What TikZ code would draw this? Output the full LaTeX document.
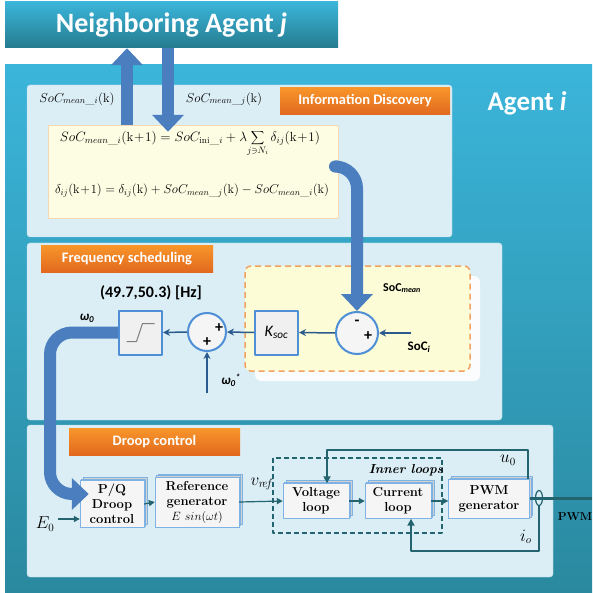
\documentclass[tikz,border=0pt]{standalone}
\usepackage{graphicx}
\usepackage{fontspec}
\newfontfamily\calib{Carlito}
\usetikzlibrary{arrows.meta,shadows,calc,shapes.geometric}
\definecolor{tealtop}{HTML}{3BB5DA}
\definecolor{tealbot}{HTML}{2A899F}
\definecolor{panelfill}{HTML}{DBEEF5}
\definecolor{panelline}{HTML}{B4DAE8}
\definecolor{orangetop}{HTML}{F8962A}
\definecolor{orangebot}{HTML}{E2691F}
\definecolor{eqfill}{HTML}{FDFDE3}
\definecolor{eqline}{HTML}{F5D8B2}
\definecolor{ylwfill}{HTML}{FCFCD6}
\definecolor{dashline}{HTML}{F2A262}
\definecolor{bigblue}{HTML}{4A7EBF}
\definecolor{fblue}{HTML}{2A5A8E}
\definecolor{ringblue}{HTML}{4E8FD6}
\definecolor{dteal}{HTML}{23646F}
\definecolor{boxline}{HTML}{7DB2E2}
\begin{document}
\begin{tikzpicture}[x=1pt, y=-1pt, line join=round,
	panel/.style={draw=panelline, fill=panelfill, rounded corners=3pt},
	tag/.style={top color=orangetop, bottom color=orangebot, text=white, inner sep=0pt, minimum height=27pt, font=\calib\bfseries\fontsize{14.5}{14.5}\selectfont},
	bigarrow/.style={draw=bigblue, line width=12pt, -{Triangle[length=17pt,width=31pt]}},
	pipe/.style={bigarrow, rounded corners=22pt},
	sumring/.style={circle, draw=ringblue, line width=2pt, fill=gray!8, minimum size=#1, inner sep=0pt},
	fblock/.style={draw=ringblue, line width=2pt, fill=gray!12, minimum width=43pt, minimum height=44pt, inner sep=0pt},
	fa/.style={draw=fblue, line width=1.5pt, -{Stealth[length=7pt,width=7pt]}},
	dblock/.style={draw=boxline, fill=gray!8, double copy shadow={shadow xshift=1.5pt, shadow yshift=1.5pt, fill=gray!35, draw=boxline}, align=center, inner sep=0pt, font=\bfseries\fontsize{13}{15}\selectfont},
	da/.style={draw=dteal, line width=1.2pt, -{Triangle[length=6pt,width=6pt]}},
	fb/.style={draw=dteal, line width=2pt},
	sign/.style={font=\calib\bfseries\fontsize{16}{16}\selectfont, inner sep=0pt}]
	\useasboundingbox (0,0) rectangle (592,593);
	\shade[top color=tealtop, bottom color=tealbot] (5,65) rectangle (592,593);
	\node[top color=tealtop, bottom color=tealbot!90!black, minimum width=333pt, minimum height=46pt, text=white, font=\calib\bfseries\fontsize{28}{28}\selectfont] (nbr) at (171.5,25) {Neighboring Agent \textit{j}};
	\node[text=white, font=\calib\bfseries\fontsize{27}{27}\selectfont] (agent) at (527,103) {Agent \textit{i}};
	% information discovery
	\draw[panel] (27,85) rectangle (452,237);
	\node[tag, minimum width=170pt] (infotag) at (365,101) {Information Discovery};
	\node[draw=eqline, fill=eqfill, minimum width=290pt, minimum height=93pt] (eqbox) at (193,171.5) {};
	\node[font=\fontsize{14}{14}\selectfont] (eqa) at (190,143) {\scalebox{0.94}{$\displaystyle SoC_{mean\_i}(\mathrm{k\!+\!1})=SoC_{\mathrm{ini}\_i}+\lambda\!\sum_{j\ni N_i}\delta_{ij}(\mathrm{k\!+\!1})$}};
	\node[font=\fontsize{14}{14}\selectfont] (eqb) at (192,191) {\scalebox{0.89}{$\delta_{ij}(\mathrm{k\!+\!1})=\delta_{ij}(\mathrm{k})+SoC_{mean\_j}(\mathrm{k})-SoC_{mean\_i}(\mathrm{k})$}};
	\node[font=\fontsize{14}{14}\selectfont] (soci) at (77,99) {\scalebox{0.9}{$SoC_{mean\_i}(\mathrm{k})$}};
	\node[font=\fontsize{14}{14}\selectfont] (socj) at (224,99) {\scalebox{0.9}{$SoC_{mean\_j}(\mathrm{k})$}};
	% frequency scheduling
	\draw[panel] (27,243) rectangle (502,420);
	\node[tag, minimum width=172pt] (freqtag) at (127,258.5) {Frequency scheduling};
	\fill[white!85!panelfill, rounded corners=6pt] (255,276) rectangle (480,381);
	\draw[dashline, dashed, line width=1.5pt, fill=ylwfill, rounded corners=6pt, dash pattern=on 6pt off 4pt] (245,266) rectangle (470,371);
	\node[font=\calib\bfseries\fontsize{12}{12}\selectfont] (socmean) at (402,288) {SoC\textsubscript{\itshape mean}};
	\node[sumring=42pt] (sum1) at (357,333) {};
	\node[sign] (m1) at ($(sum1)+(0,-10)$) {-};
	\node[sign] (p1) at ($(sum1)+(11,3)$) {+};
	\node[font=\calib\bfseries\fontsize{13}{13}\selectfont] (socin) at (419,347) {SoC\textsubscript{\itshape i}};
	\coordinate (socarr) at (411,333);
	\node[fblock] (ksoc) at (276.5,332.5) {\calib\itshape\fontsize{16}{16}\selectfont K\textsubscript{soc}};
	\node[sumring=38pt] (sum2) at (207,332) {};
	\node[sign] (p2) at ($(sum2)+(12,-4)$) {+};
	\node[sign] (p3) at ($(sum2)+(0,10)$) {+};
	\coordinate (w0in) at (207,393);
	\node[font=\calib\bfseries\itshape\fontsize{13}{13}\selectfont] (w0s) at (231,380) {ω\textsubscript{0}\textsuperscript{*}};
	\node[fblock] (sat) at (140.5,332.5) {};
	\draw[gray, line width=1pt] ($(sat)+(-14,9)$) -- ++(10,0) -- ++(6,-18) -- ++(12,0);
	\node[font=\calib\bfseries\fontsize{16}{16}\selectfont] (hz) at (151,293) {(49.7,50.3) [Hz]};
	\node[font=\calib\bfseries\itshape\fontsize{13}{13}\selectfont] (w0) at (87,318) {ω\textsubscript{0}};
	\draw[fa] (socarr) -- (sum1.east);
	\draw[fa] (sum1.west) -- (ksoc.east);
	\draw[fa] (ksoc.west) -- (sum2.east);
	\draw[fa] (sum2.west) -- (sat.east);
	\draw[fa] (w0in) -- (sum2.south);
	% droop control
	\draw[panel] (27,425) rectangle (553,577);
	\node[tag, minimum width=171pt] (drooptag) at (154.5,441.5) {Droop control};
	\draw[dteal, dashed, line width=1.2pt, dash pattern=on 5pt off 3pt] (273,458) rectangle (442,533);
	\node[font=\bfseries\itshape\fontsize{13}{13}\selectfont] (inner) at (406,470) {Inner loops};
	\node[dblock, minimum width=64pt, minimum height=47pt] (pq) at (112,504) {P/Q\\Droop\\control};
	\node[dblock, minimum width=84pt, minimum height=50pt] (ref) at (197,502) {Reference\\generator\\\mdseries$E\ sin(\omega t)$};
	\node[dblock, minimum width=66pt, minimum height=35pt] (vol) at (316,501) {Voltage\\loop};
	\node[dblock, minimum width=66pt, minimum height=35pt] (cur) at (398,501) {Current\\loop};
	\node[dblock, minimum width=81pt, minimum height=39pt] (pwm) at (489,499) {PWM\\generator};
	\node[font=\fontsize{17}{17}\selectfont] (vref) at (262,484) {$v_{r\!e\!f}$};
	\node[font=\fontsize{16}{16}\selectfont] (e0) at (45,524) {$E_0$};
	\coordinate (e0in) at (58,519);
	\node[ellipse, draw=dteal, line width=1.2pt, minimum width=7pt, minimum height=15pt, inner sep=0pt] (sens) at (539,498) {};
	\coordinate (out) at (592,498);
	\node[font=\bfseries\fontsize{11.5}{11.5}\selectfont, inner sep=1pt] (pwmout) at (575,517) {PWM};
	\node[font=\fontsize{16}{16}\selectfont] (u0) at (508,460) {$u_0$};
	\node[font=\fontsize{16}{16}\selectfont] (io) at (526,537) {$i_o$};
	\coordinate (ufb) at (528,450);
	\coordinate (ifb) at (411,551);
	\draw[da] (pq.east) -- (ref.west);
	\draw[da] (ref.east) -- (vol.west);
	\draw[da] (vol.east) -- (cur.west);
	\draw[da] (cur.east) -- (pwm.west |- cur.east);
	\draw[da] (e0in) -- (e0in -| pq.west);
	\draw[fb, line width=3pt] (pwm.east |- sens) -- (out);
	\draw[fb, -{Triangle[length=7pt,width=7pt]}] (pwm.north -| ufb) -- (ufb) -| ($(vol.north)+(11,0)$);
	\draw[fb, -{Triangle[length=7pt,width=7pt]}] (sens.south) |- (ifb) -- ($(cur.south)+(13,0)$);
	% big arrows
	\coordinate (upx) at (127,0);
	\coordinate (dnx) at (168,0);
	\draw[bigarrow] (eqbox.north -| upx) -- (nbr.south -| upx);
	\draw[bigarrow] (nbr.south -| dnx) -- ($(eqbox.north -| dnx)+(0,7)$);
	\draw[pipe] ($(eqbox.east)+(0,-5)$) -| (sum1.north);
	\coordinate (bend) at (50,494);
	\draw[pipe] (sat.west) -| (bend) -- ($(pq.west)+(9,-10)$);
\end{tikzpicture}
\end{document}
